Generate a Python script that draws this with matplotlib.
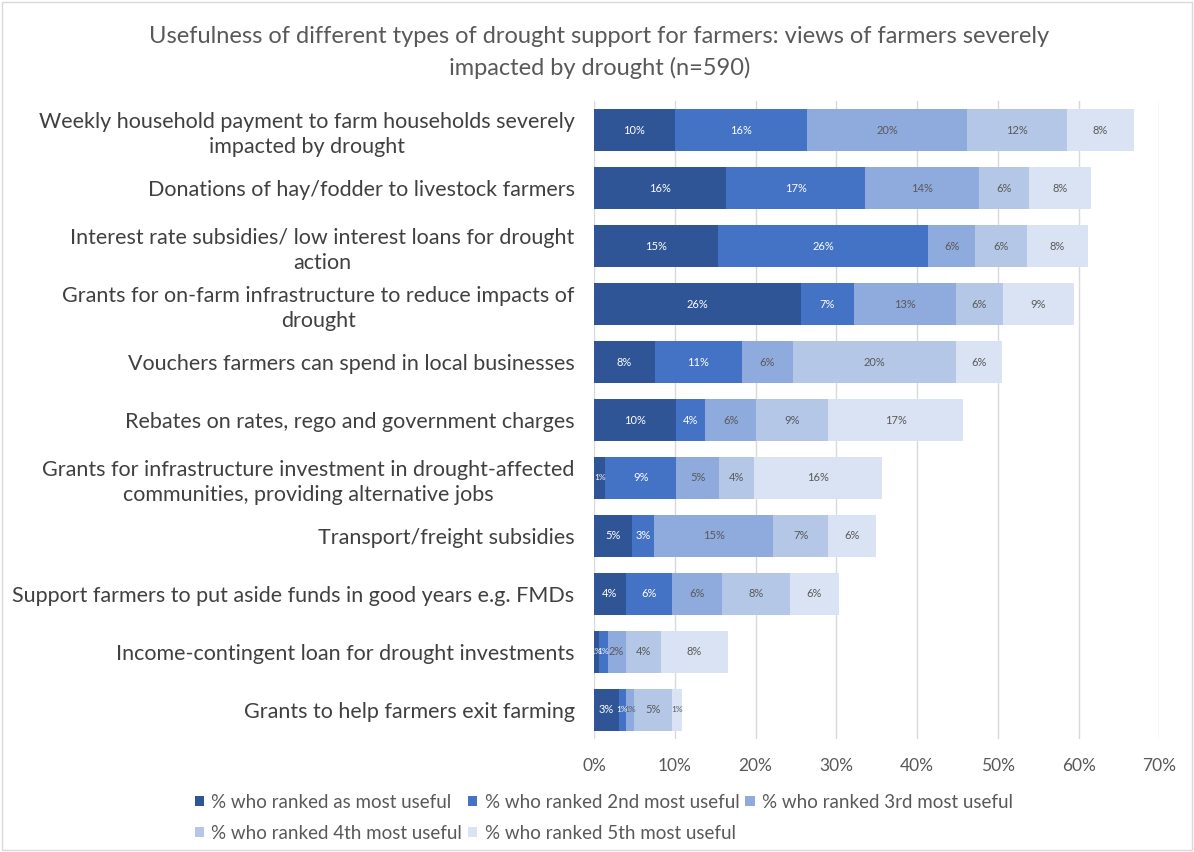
import matplotlib.pyplot as plt
from matplotlib.patches import Rectangle
import numpy as np

plt.rcParams['font.family'] = ['Lato', 'DejaVu Sans']

# Support types (top to bottom)
categories = [
    "Weekly household payment to farm households severely\nimpacted by drought",
    "Donations of hay/fodder to livestock farmers",
    "Interest rate subsidies/ low interest loans for drought\naction",
    "Grants for on-farm infrastructure to reduce impacts of\ndrought",
    "Vouchers farmers can spend in local businesses",
    "Rebates on rates, rego and government charges",
    "Grants for infrastructure investment in drought-affected\ncommunities, providing alternative jobs",
    "Transport/freight subsidies",
    "Support farmers to put aside funds in good years e.g. FMDs",
    "Income-contingent loan for drought investments",
    "Grants to help farmers exit farming",
]

# % of farmers ranking each option 1st..5th most useful
rank1 = [10.0, 16.4, 15.4, 25.6, 7.5, 10.2, 1.4, 4.7, 3.9, 0.6, 3.1]
rank2 = [16.4, 17.1, 26.0, 6.6, 10.8, 3.6, 8.8, 2.7, 5.8, 1.1, 0.8]
rank3 = [19.8, 14.2, 5.8, 12.6, 6.3, 6.3, 5.3, 14.8, 6.2, 2.2, 1.1]
rank4 = [12.4, 6.1, 6.4, 5.8, 20.2, 8.9, 4.3, 6.8, 8.4, 4.4, 4.6]
rank5 = [8.2, 7.7, 7.6, 8.8, 5.7, 16.7, 15.9, 5.9, 6.0, 8.3, 1.3]

series_names = [
    "% who ranked as most useful",
    "% who ranked 2nd most useful",
    "% who ranked 3rd most useful",
    "% who ranked 4th most useful",
    "% who ranked 5th most useful",
]
colors = ['#2F5597', '#4472C4', '#8FAADC', '#B4C7E7', '#DAE3F3']
label_colors = ['white', 'white', '#595959', '#595959', '#595959']

fig = plt.figure(figsize=(11.94, 8.52), dpi=100)
ax = fig.add_axes([0.4975, 0.133, 0.4735, 0.748])

y = np.arange(len(categories))
left = np.zeros(len(categories))
handles = []
for vals, name, col, lc in zip([rank1, rank2, rank3, rank4, rank5],
                               series_names, colors, label_colors):
    vals = np.array(vals)
    bars = ax.barh(y, vals, left=left, height=0.72, color=col,
                   label=name, zorder=3)
    handles.append(bars)
    for yi, l, v in zip(y, left, vals):
        fs = 8 if v >= 2 else 6
        ax.text(l + v / 2, yi, f"{v:.0f}%", ha='center', va='center',
                fontsize=fs, color=lc, zorder=4)
    left += vals

ax.set_ylim(len(categories) - 0.5, -0.5)
ax.set_xlim(0, 70)
ax.set_xticks(np.arange(0, 71, 10))
ax.set_xticklabels([f"{t}%" for t in range(0, 71, 10)])
ax.set_yticks(y)
ax.set_yticklabels(categories)
plt.setp(ax.get_yticklabels(), multialignment='center', linespacing=1.3)
ax.tick_params(axis='y', length=0, pad=14, labelsize=15.5, labelcolor='#404040')
ax.tick_params(axis='x', length=0, pad=14, labelsize=12.5, labelcolor='#595959')
ax.grid(axis='x', color='#D9D9D9', linewidth=1, zorder=0)
ax.grid(axis='y', visible=False)
for s in ax.spines.values():
    s.set_visible(False)

fig.suptitle("Usefulness of different types of drought support for farmers: views of farmers severely\nimpacted by drought (n=590)",
             x=0.502, y=0.969, fontsize=17, color='#595959', linespacing=1.5)

# row-major order for a 3-column legend
order = [0, 3, 1, 4, 2]
leg = fig.legend([handles[i] for i in order], [series_names[i] for i in order],
                 ncol=3, loc='upper left', bbox_to_anchor=(0.152, 0.084),
                 frameon=False, fontsize=13.5, handlelength=0.5, handleheight=0.5,
                 handletextpad=0.4, columnspacing=0.3, labelspacing=0.75,
                 borderpad=0.2)
for t in leg.get_texts():
    t.set_color('#595959')

fig.add_artist(Rectangle((0.002, 0.002), 0.996, 0.996, transform=fig.transFigure,
                         fill=False, edgecolor='#D9D9D9', linewidth=1))

fig.savefig("out.png", dpi=100)
